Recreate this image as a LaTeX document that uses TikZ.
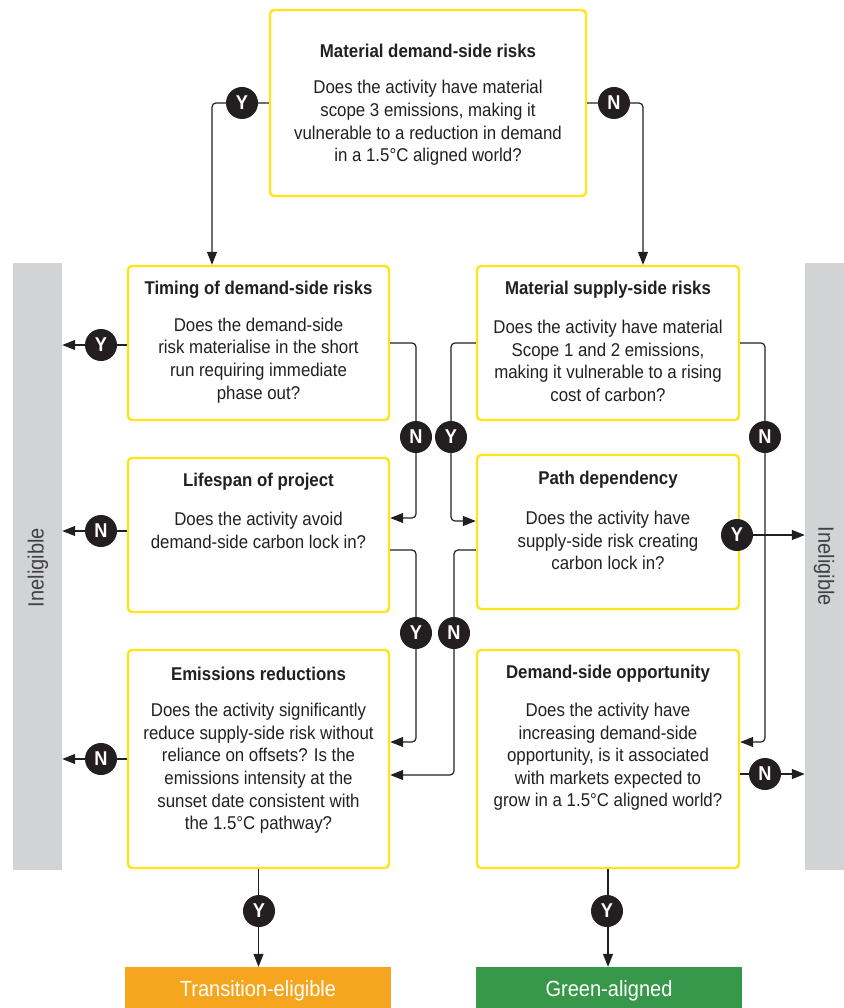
\documentclass[tikz,border=0pt]{standalone}
\usepackage{fontspec}
\setmainfont{Liberation Sans}[FakeStretch=0.91]
\usetikzlibrary{arrows.meta}

\definecolor{boxyellow}{RGB}{255,228,26}
\definecolor{ink}{RGB}{35,31,32}
\definecolor{bargray}{RGB}{209,211,212}
\definecolor{bartext}{RGB}{65,64,66}
\definecolor{transorange}{RGB}{246,166,30}
\definecolor{greenok}{RGB}{54,152,72}

\begin{document}
\begin{tikzpicture}[x=1pt,y=-1pt,
  qbox/.style={draw=boxyellow, line width=2.4pt, rounded corners=4pt, inner sep=0pt},
  ttl/.style={font=\bfseries\fontsize{18.5}{22}\selectfont, text=ink, inner sep=0pt},
  body/.style={font=\fontsize{18.5}{22.6}\selectfont, text=ink, align=center, inner sep=0pt},
  yn/.style={circle, fill=ink, text=white, font=\bfseries\fontsize{20}{20}\selectfont, minimum size=32pt, inner sep=0pt},
  flow/.style={draw=ink, line width=1.2pt, rounded corners=4pt, -{Triangle[length=13pt,width=10pt]}},
  sidebar/.style={fill=bargray, inner sep=0pt},
  sidetext/.style={font=\fontsize{22}{22}\selectfont, text=bartext},
  outcome/.style={inner sep=0pt, text=white, font=\fontsize{22}{22}\selectfont}]
\useasboundingbox (0,0) rectangle (843,1008);

% side bars
\node[sidebar, minimum width=49pt, minimum height=607pt] (lbar) at (37.5,566.5) {};
\node[sidebar, minimum width=40pt, minimum height=607pt] (rbar) at (825,566.5) {};
\node[sidetext, rotate=90] (lbart) at (38,567.5) {Ineligible};
\node[sidetext, rotate=-90] (rbart) at (824,566.5) {Ineligible};

% outcome boxes
\node[outcome, fill=transorange, minimum width=266pt, minimum height=44pt] (TE) at (258,989) {};
\node[outcome] (TEt) at (258,990.5) {Transition-eligible};
\node[outcome, fill=greenok, minimum width=266pt, minimum height=44pt] (GA) at (609,989) {};
\node[outcome] (GAt) at (609,990.5) {Green-aligned};

% question boxes
\node[qbox, minimum width=316pt, minimum height=186pt] (top) at (428,103) {};
\node[qbox, minimum width=261pt, minimum height=154pt] (T1) at (258.5,343) {};
\node[qbox, minimum width=261pt, minimum height=154pt] (L2) at (258.5,535) {};
\node[qbox, minimum width=261pt, minimum height=218pt] (E3) at (258.5,759) {};
\node[qbox, minimum width=262pt, minimum height=154pt] (S1) at (608,343) {};
\node[qbox, minimum width=262pt, minimum height=154pt] (P2) at (608,532) {};
\node[qbox, minimum width=262pt, minimum height=218pt] (D3) at (608,759) {};

% box texts
\node[ttl] (topt) at (428,51) {Material demand-side risks};
\node[body] (topb) at (428,123) {Does the activity have material\\scope 3 emissions, making it\\vulnerable to a reduction in demand\\in a 1.5°C aligned world?};
\node[ttl] (T1t) at (258.5,290) {Timing of demand-side risks};
\node[body] (T1b) at (258.5,360.5) {Does the demand-side\\risk materialise in the short\\run requiring immediate\\phase out?};
\node[ttl] (L2t) at (258.5,482) {Lifespan of project};
\node[body] (L2b) at (258.5,530.5) {Does the activity avoid\\demand-side carbon lock in?};
\node[ttl] (E3t) at (258.5,674) {Emissions reductions};
\node[body] (E3b) at (258.5,768.5) {Does the activity significantly\\reduce supply-side risk without\\reliance on offsets? Is the\\emissions intensity at the\\sunset date consistent with\\the 1.5°C pathway?};
\node[ttl] (S1t) at (608,290) {Material supply-side risks};
\node[body] (S1b) at (608,361) {Does the activity have material\\Scope 1 and 2 emissions,\\making it vulnerable to a rising\\cost of carbon?};
\node[ttl] (P2t) at (608,480) {Path dependency};
\node[body] (P2b) at (608,540.5) {Does the activity have\\supply-side risk creating\\carbon lock in?};
\node[ttl] (D3t) at (608,674) {Demand-side opportunity};
\node[body] (D3b) at (608,757) {Does the activity have\\increasing demand-side\\opportunity, is it associated\\with markets expected to\\grow in a 1.5°C aligned world?};

% bend points of the connectors
\coordinate (lx) at (212,0);
\coordinate (rx) at (643,0);
\coordinate (k1) at (416,518);
\coordinate (k2) at (451,521);
\coordinate (k3) at (416,742);
\coordinate (k4) at (454,775);
\coordinate (k5) at (765,742);

% connectors
\draw[flow] (top.west) -| (T1.north -| lx);
\draw[flow] (top.east) -| (S1.north -| rx);
\draw[flow] ([yshift=-2pt]T1.west) -- ([yshift=-2pt]T1.west -| lbar.east);
\draw[flow] ([yshift=4pt]L2.west) -- ([yshift=4pt]L2.west -| lbar.east);
\draw[flow] (E3.west) -- (E3.west -| lbar.east);
\draw[flow] (T1.east) -| (k1) -- (k1 -| L2.east);
\draw[flow] (S1.west) -| (k2) -- (k2 -| P2.west);
\draw[flow] ([yshift=-15pt]L2.east) -| (k3) -- (k3 -| E3.east);
\draw[flow] ([yshift=-18pt]P2.west) -| (k4) -- (k4 -| E3.east);
\draw[flow] (S1.east) -| (k5) -- (k5 -| D3.east);
\draw[flow] ([yshift=-3pt]P2.east) -- ([yshift=-3pt]P2.east -| rbar.west);
\draw[flow] ([yshift=-15pt]D3.east) -- ([yshift=-15pt]D3.east -| rbar.west);
\draw[flow] (E3.south) -- (E3.south |- TE.north);
\draw[flow] (D3.south) -- (D3.south |- GA.north);

% yes / no markers
\node[yn] (m1) at (242,103) {Y};
\node[yn] (m2) at (614,103) {N};
\node[yn] (m3) at (101,345) {Y};
\node[yn] (m4) at (101,531) {N};
\node[yn] (m5) at (101,759) {N};
\node[yn] (m6) at (416,437) {N};
\node[yn] (m7) at (451,437) {Y};
\node[yn] (m8) at (416,633) {Y};
\node[yn] (m9) at (454,633) {N};
\node[yn] (m10) at (765,437) {N};
\node[yn] (m11) at (737,535) {Y};
\node[yn] (m12) at (765,774) {N};
\node[yn] (m13) at (259,911) {Y};
\node[yn] (m14) at (607,911) {Y};
\end{tikzpicture}
\end{document}
